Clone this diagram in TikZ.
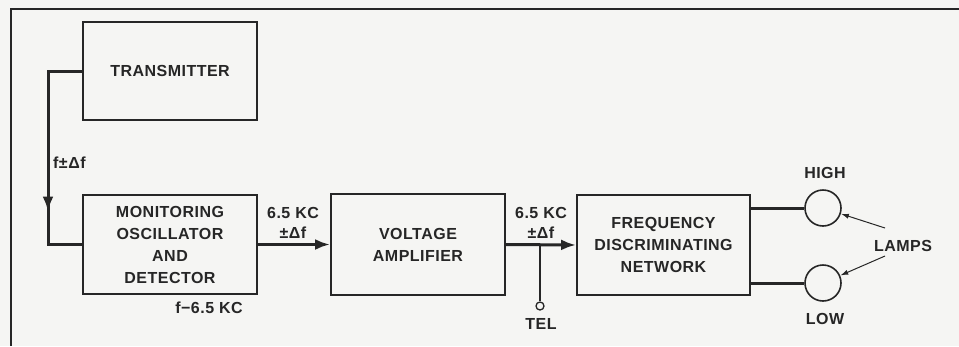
\documentclass[tikz,border=0pt]{standalone}
\usepackage{fontspec}
\setmainfont{Liberation Sans}[LetterSpace=3]
\usetikzlibrary{arrows.meta,calc}
\definecolor{ink}{HTML}{262626}
\definecolor{paper}{HTML}{F5F5F3}
\begin{document}
\begin{tikzpicture}[x=1pt,y=-1pt,
  every node/.style={text=ink,font=\bfseries\fontsize{16}{22}\selectfont},
  blockbox/.style={draw=ink,line width=1.9pt,align=center,inner sep=0pt},
  conn/.style={draw=ink,line width=3pt},
  arr/.style={conn,-{Latex[length=15pt,width=11pt]}},
  lbl/.style={inner sep=0pt},
  lamp/.style={draw=ink,line width=1.6pt,circle,minimum size=36pt,inner sep=0pt},
  thinarr/.style={draw=ink,line width=1pt,-{Latex[length=8pt,width=5pt]}}]
\useasboundingbox[fill=paper] (0,0) rectangle (959,346);
% frame
\draw[ink,line width=2.4pt] (11,346) -- (11,9) -- (959,9);
% blocks
\node[blockbox,minimum width=174pt,minimum height=98pt] (tx) at (170,71) {TRANSMITTER};
\node[blockbox,minimum width=174pt,minimum height=99pt] (mon) at (170,244.5) {MONITORING\\OSCILLATOR\\AND\\DETECTOR};
\node[blockbox,minimum width=174pt,minimum height=101pt] (amp) at (418,244.5) {VOLTAGE\\AMPLIFIER};
\node[blockbox,minimum width=173pt,minimum height=100pt] (fdn) at (663.5,245) {FREQUENCY\\DISCRIMINATING\\NETWORK};
% lamps
\node[lamp] (hi) at (823,208) {};
\node[lamp] (lo) at (823,283) {};
\node[lbl] (hilbl) at (825,173) {HIGH};
\node[lbl] (lolbl) at (825,319) {LOW};
\node[lbl] (lamps) at (903,246) {LAMPS};
% tel
\node[draw=ink,line width=1.3pt,circle,minimum size=8pt,inner sep=0pt] (tel) at (540,306) {};
\node[lbl] (tellbl) at (541,324) {TEL};
% labels
\node[lbl,anchor=west] (ff) at (53,163) {f±Δf};
\node[lbl] (a1) at (293,213) {6.5 KC};
\node[lbl] (a2) at (293,233) {±Δf};
\node[lbl] (b1) at (541,213) {6.5 KC};
\node[lbl] (b2) at (541,233) {±Δf};
\node[lbl] (fm) at (209,308) {f−6.5 KC};
% feedback path
\coordinate (c1) at (48,71);
\coordinate (c2) at (48,244.5);
\draw[conn,line cap=rect] (tx.west) -- (c1) -- (c2) -- (mon.west);
\draw[arr] (c1) -- ($(c1)!0.81!(c2)$);
% main chain
\draw[arr] (mon.east) -- (amp.west);
\draw[arr] (amp.east) -- (fdn.west);
\coordinate (j) at (tel |- amp.east);
\draw[conn,line width=2pt] (j) -- (tel.north);
% lamp lines
\draw[conn] (fdn.east |- hi) -- (hi.west);
\draw[conn] (fdn.east |- lo) -- (lo.west);
\coordinate (l1) at (885,228);
\coordinate (l2) at (885,256);
\draw[thinarr] (l1) -- (hi);
\draw[thinarr] (l2) -- (lo);
\end{tikzpicture}
\end{document}
